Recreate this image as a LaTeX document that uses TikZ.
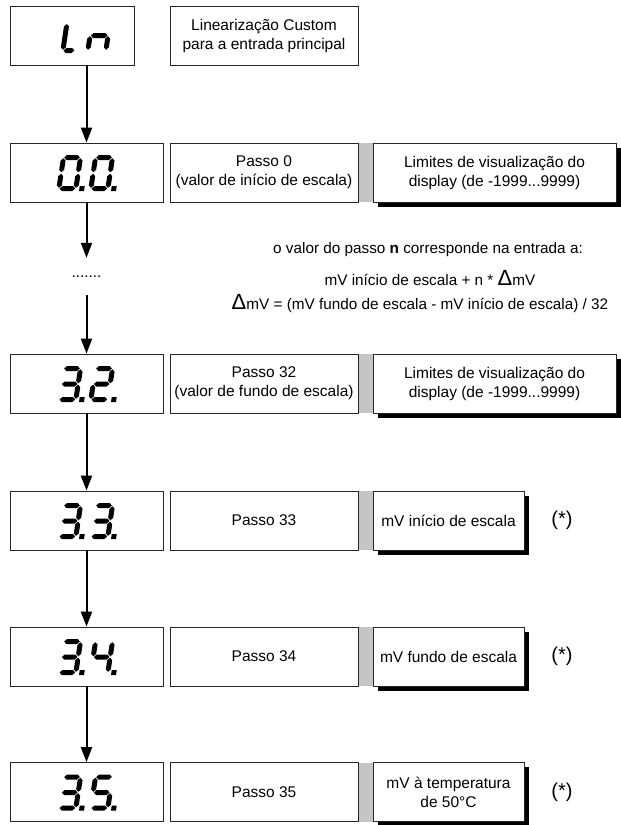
\documentclass[tikz,border=0pt]{standalone}
\usepackage{fontspec}
\setmainfont{Liberation Sans}
\usetikzlibrary{arrows.meta,shadows}
% seven-segment helpers (local coordinates, y up)
\newcommand\lcdH[3]{\fill ({#1},{#3}) -- ({#1+2.5},{#3+2.5}) -- ({#2-2.5},{#3+2.5}) -- ({#2},{#3}) -- ({#2-2.5},{#3-2.5}) -- ({#1+2.5},{#3-2.5}) -- cycle;}
\newcommand\lcdV[3]{\fill ({#1},{#2}) -- ({#1+2.5},{#2+2.5}) -- ({#1+2.5},{#3-2.5}) -- ({#1},{#3}) -- ({#1-2.5},{#3-2.5}) -- ({#1-2.5},{#2+2.5}) -- cycle;}
\newcommand\lcdA{\lcdH{3.2}{18.8}{33.5}}
\newcommand\lcdG{\lcdH{3.2}{18.8}{18}}
\newcommand\lcdD{\lcdH{3.2}{18.8}{2.5}}
\newcommand\lcdF{\lcdV{2.5}{18.7}{32.8}}
\newcommand\lcdB{\lcdV{19.5}{18.7}{32.8}}
\newcommand\lcdE{\lcdV{2.5}{3.2}{17.3}}
\newcommand\lcdC{\lcdV{19.5}{3.2}{17.3}}
\newcommand\lcdP{\fill (23,0) rectangle (28,5);}
\newcommand\lcdzero{\lcdA\lcdB\lcdC\lcdD\lcdE\lcdF\lcdP}
\newcommand\lcdtwo{\lcdA\lcdB\lcdG\lcdE\lcdD\lcdP}
\newcommand\lcdthree{\lcdA\lcdB\lcdG\lcdC\lcdD\lcdP}
\newcommand\lcdfour{\lcdF\lcdG\lcdB\lcdC\lcdP}
\newcommand\lcdfive{\lcdA\lcdF\lcdG\lcdC\lcdD\lcdP}
\newcommand\lcdat[3]{\begin{scope}[shift={(#1,#2)},xslant=0.15,x=1pt,y=1pt]#3\end{scope}}
\newcommand\lcdpair[4]{\lcdat{56}{#1}{#2}\lcdat{88}{#1}{#3}}
\tikzset{
 box/.style={draw=black!85, line width=0.8pt, fill=white, inner sep=0pt, minimum height=59pt, align=center, font=\fontsize{15.5}{19}\selectfont},
 disp/.style={box, minimum width=153pt},
 lbl/.style={box, minimum width=188pt},
 gapbar/.style={fill=black!23, inner sep=0pt, minimum width=16pt, minimum height=59pt},
 shad/.style={box, drop shadow={shadow xshift=4.5pt, shadow yshift=-4.5pt, fill=black, opacity=1}},
 wide/.style={shad, minimum width=243pt},
 narrow/.style={shad, minimum width=151pt},
 flow/.style={line width=2pt, -{Triangle[length=15pt,width=11pt]}},
 note/.style={font=\fontsize{15.3}{18}\selectfont},
 star/.style={font=\fontsize{20}{24}\selectfont},
}
\newcommand\bigD{{\fontsize{22}{22}\selectfont Δ}}
\begin{document}
\begin{tikzpicture}[x=1pt,y=-1pt]
\useasboundingbox (0,0) rectangle (621,825);
% Ln row
\node[box, minimum width=124pt] (lnd) at (72,35.5) {};
\node[lbl] (lnl) at (264,35.5) {Linearização Custom\\para a entrada principal};
\begin{scope}[shift={(60,53)},xslant=0.15,x=1pt,y=1pt]
 \lcdV{2.5}{3.2}{29}\lcdH{3.2}{14}{2.5}
\end{scope}
\begin{scope}[shift={(85,53)},xslant=0.15,x=1pt,y=1pt]
 \lcdH{3.2}{20}{17.5}\lcdV{2.5}{3.2}{16.8}\lcdV{20.5}{3.2}{16.8}
\end{scope}
% row 0
\node[gapbar] (g0) at (365.5,172.5) {};
\node[disp] (d0) at (86.5,172.5) {};
\node[lbl] (p0) at (264,172.5) {Passo 0\\(valor de início de escala)};
\node[wide] (w0) at (494.5,172.5) {Limites de visualização do\\display (de -1999...9999)};
\lcdpair{191}{\lcdzero}{\lcdzero}{}
% notes
\node[note, minimum height=37pt, inner sep=0pt] (dots) at (86.5,276.5) {.......};
\node[note] (n1) at (428,250) {o valor do passo \textbf{n} corresponde na entrada a:};
\node[note] (n2) at (430,278) {mV início de escala + n * \bigD mV};
\node[note] (n3) at (420,304) {\bigD mV = (mV fundo de escala - mV início de escala) / 32};
% row 32
\node[gapbar] (g32) at (365.5,383.5) {};
\node[disp] (d32) at (86.5,383.5) {};
\node[lbl] (p32) at (264,383.5) {Passo 32\\(valor de fundo de escala)};
\node[wide] (w32) at (494.5,383.5) {Limites de visualização do\\display (de -1999...9999)};
\lcdpair{402}{\lcdthree}{\lcdtwo}{}
% row 33
\node[gapbar] (g33) at (365.5,520.5) {};
\node[disp] (d33) at (86.5,520.5) {};
\node[lbl] (p33) at (264,520.5) {Passo 33};
\node[narrow] (w33) at (448.5,520.5) {mV início de escala};
\node[star] (s33) at (562,520.5) {(*)};
\lcdpair{539}{\lcdthree}{\lcdthree}{}
% row 34
\node[gapbar] (g34) at (365.5,656.5) {};
\node[disp] (d34) at (86.5,656.5) {};
\node[lbl] (p34) at (264,656.5) {Passo 34};
\node[narrow] (w34) at (448.5,656.5) {mV fundo de escala};
\node[star] (s34) at (562,656.5) {(*)};
\lcdpair{675}{\lcdthree}{\lcdfour}{}
% row 35
\node[gapbar] (g35) at (365.5,792) {};
\node[disp] (d35) at (86.5,792) {};
\node[lbl] (p35) at (264,792) {Passo 35};
\node[narrow] (w35) at (448.5,792) {mV à temperatura\\de 50°C};
\node[star] (s35) at (562,792) {(*)};
\lcdpair{810.5}{\lcdthree}{\lcdfive}{}
% connectors
\draw[flow] (lnd.south -| d0.north) -- (d0.north);
\draw[flow] (d0.south) -- (dots.north);
\draw[flow] (dots.south) -- (d32.north);
\draw[flow] (d32.south) -- (d33.north);
\draw[flow] (d33.south) -- (d34.north);
\draw[flow] (d34.south) -- (d35.north);
\end{tikzpicture}
\end{document}
